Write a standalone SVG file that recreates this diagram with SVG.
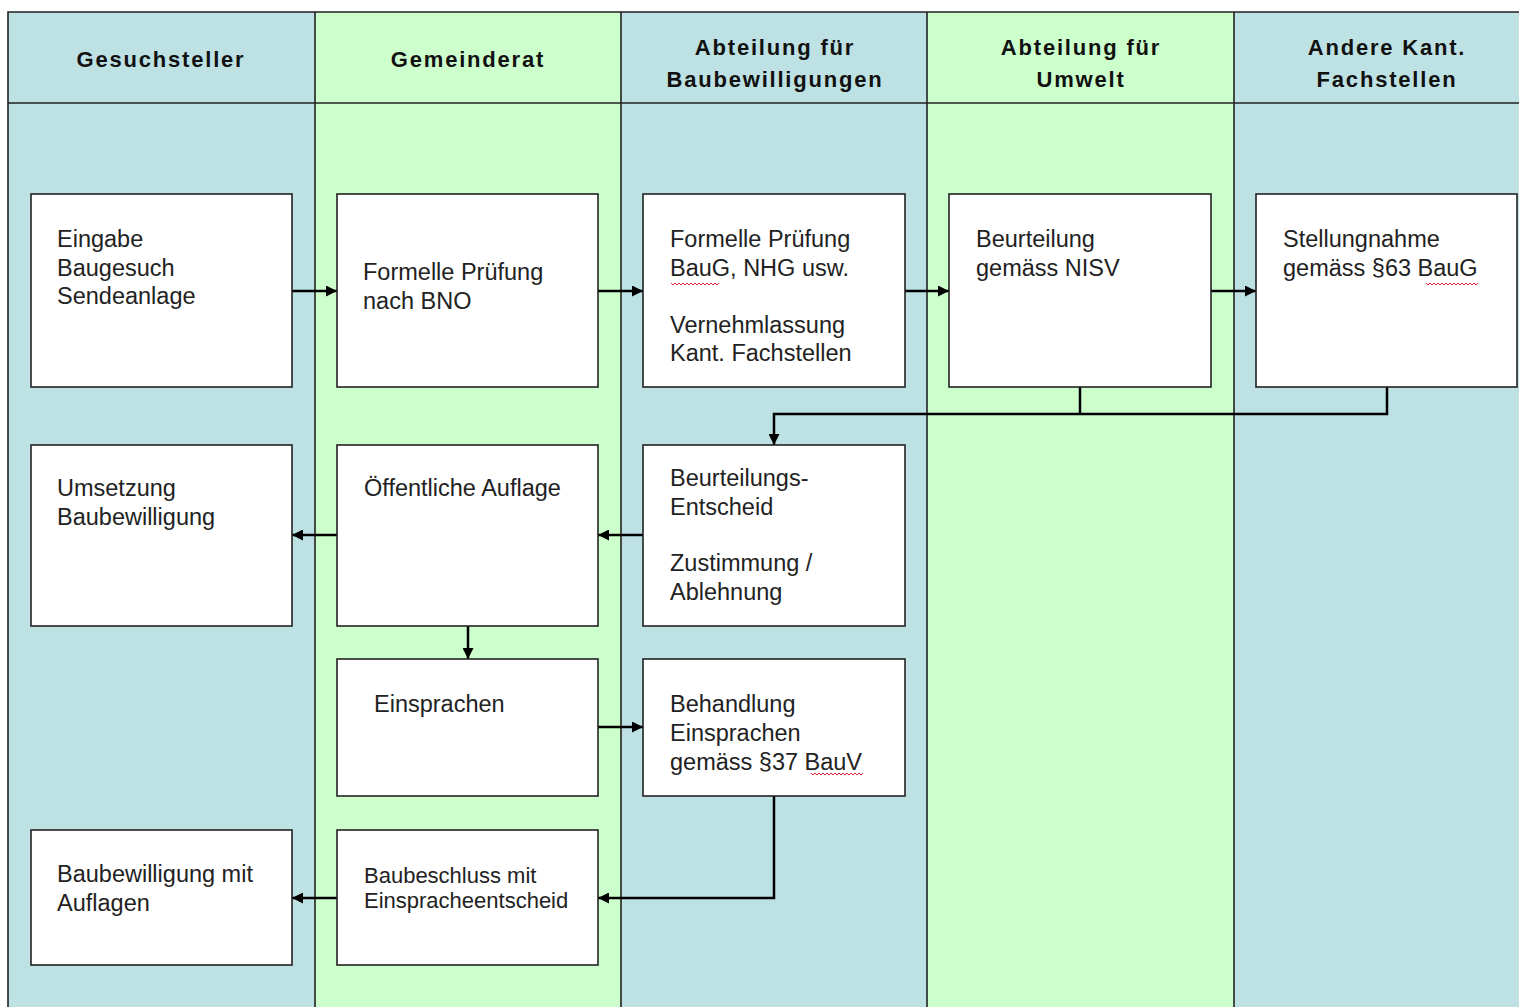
<svg xmlns="http://www.w3.org/2000/svg" width="1519" height="1007" viewBox="0 0 1519 1007">
<defs>
<marker id="ah" viewBox="0 0 10 10" refX="10" refY="5" markerWidth="11" markerHeight="11" markerUnits="userSpaceOnUse" orient="auto">
<path d="M0,0 L10,5 L0,10 z" fill="#000"/>
</marker>
<style>
.bl{fill:#BEE1E4}
.gr{fill:#CCFFCC}
.ln{stroke:#222;stroke-width:1.6;fill:none}
.hd{font-family:"Liberation Sans",Arial,sans-serif;font-weight:bold;font-size:22px;letter-spacing:1.8px;fill:#111;text-anchor:middle}
.box{fill:#fff;stroke:#222;stroke-width:1.6}
.t{font-family:"Liberation Sans",Arial,sans-serif;font-size:23.5px;fill:#222}
.ts{font-family:"Liberation Sans",Arial,sans-serif;font-size:22px;fill:#222}
.c{stroke:#000;stroke-width:2.5;fill:none}
.sp{stroke:#d23;stroke-width:1;fill:none}
</style>
</defs>
<rect width="1519" height="1007" fill="#fff"/>
<g id="lanes">
<rect class="bl" x="8" y="12" width="307" height="1000"/>
<rect class="gr" x="315" y="12" width="306" height="1000"/>
<rect class="bl" x="621" y="12" width="306" height="1000"/>
<rect class="gr" x="927" y="12" width="307" height="1000"/>
<rect class="bl" x="1234" y="12" width="300" height="1000"/>
<path class="ln" d="M8,1010 V12 H1530 M8,103 H1530 M315,12 V1010 M621,12 V1010 M927,12 V1010 M1234,12 V1010"/>
<text class="hd" x="161" y="67">Gesuchsteller</text>
<text class="hd" x="468" y="67">Gemeinderat</text>
<text class="hd" x="775" y="55">Abteilung für</text>
<text class="hd" x="775" y="87">Baubewilligungen</text>
<text class="hd" x="1081" y="55">Abteilung für</text>
<text class="hd" x="1081" y="87">Umwelt</text>
<text class="hd" x="1387" y="55">Andere Kant.</text>
<text class="hd" x="1387" y="87">Fachstellen</text>
</g>
<g id="connectors">
<path class="c" d="M292,291 H337" marker-end="url(#ah)"/>
<path class="c" d="M598,291 H643" marker-end="url(#ah)"/>
<path class="c" d="M905,291 H949" marker-end="url(#ah)"/>
<path class="c" d="M1211,291 H1256" marker-end="url(#ah)"/>
<path class="c" d="M1080,387 V414"/>
<path class="c" d="M1387,387 V414 H774 V445" marker-end="url(#ah)"/>
<path class="c" d="M643,535 H598" marker-end="url(#ah)"/>
<path class="c" d="M337,535 H292" marker-end="url(#ah)"/>
<path class="c" d="M468,626 V659" marker-end="url(#ah)"/>
<path class="c" d="M598,727 H643" marker-end="url(#ah)"/>
<path class="c" d="M774,796 V898 H598" marker-end="url(#ah)"/>
<path class="c" d="M337,898 H292" marker-end="url(#ah)"/>
</g>
<g id="n-eingabe">
<rect class="box" x="31" y="194" width="261" height="193"/>
<text class="t" x="57" y="247">Eingabe</text>
<text class="t" x="57" y="276">Baugesuch</text>
<text class="t" x="57" y="304">Sendeanlage</text>
</g>
<g id="n-formell-bno">
<rect class="box" x="337" y="194" width="261" height="193"/>
<text class="t" x="363" y="280">Formelle Prüfung</text>
<text class="t" x="363" y="309">nach BNO</text>
</g>
<g id="n-formell-baug">
<rect class="box" x="643" y="194" width="262" height="193"/>
<text class="t" x="670" y="247">Formelle Prüfung</text>
<text class="t" x="670" y="276">BauG, NHG usw.</text>
<path class="sp" d="M671,283 l2,2 l2,-2 l2,2 l2,-2 l2,2 l2,-2 l2,2 l2,-2 l2,2 l2,-2 l2,2 l2,-2 l2,2 l2,-2 l2,2 l2,-2 l2,2 l2,-2 l2,2 l2,-2 l2,2 l2,-2 l2,2 l2,-2"/>
<text class="t" x="670" y="333">Vernehmlassung</text>
<text class="t" x="670" y="361">Kant. Fachstellen</text>
</g>
<g id="n-beurteilung-nisv">
<rect class="box" x="949" y="194" width="262" height="193"/>
<text class="t" x="976" y="247">Beurteilung</text>
<text class="t" x="976" y="276">gemäss NISV</text>
</g>
<g id="n-stellungnahme">
<rect class="box" x="1256" y="194" width="261" height="193"/>
<text class="t" x="1283" y="247">Stellungnahme</text>
<text class="t" x="1283" y="276">gemäss §63 BauG</text>
<path class="sp" d="M1426,283 l2,2 l2,-2 l2,2 l2,-2 l2,2 l2,-2 l2,2 l2,-2 l2,2 l2,-2 l2,2 l2,-2 l2,2 l2,-2 l2,2 l2,-2 l2,2 l2,-2 l2,2 l2,-2 l2,2 l2,-2 l2,2 l2,-2 l2,2 l2,-2"/>
</g>
<g id="n-umsetzung">
<rect class="box" x="31" y="445" width="261" height="181"/>
<text class="t" x="57" y="496">Umsetzung</text>
<text class="t" x="57" y="525">Baubewilligung</text>
</g>
<g id="n-auflage">
<rect class="box" x="337" y="445" width="261" height="181"/>
<text class="t" x="364" y="496">Öffentliche Auflage</text>
</g>
<g id="n-entscheid">
<rect class="box" x="643" y="445" width="262" height="181"/>
<text class="t" x="670" y="486">Beurteilungs-</text>
<text class="t" x="670" y="515">Entscheid</text>
<text class="t" x="670" y="571">Zustimmung /</text>
<text class="t" x="670" y="600">Ablehnung</text>
</g>
<g id="n-einsprachen">
<rect class="box" x="337" y="659" width="261" height="137"/>
<text class="t" x="374" y="712">Einsprachen</text>
</g>
<g id="n-behandlung">
<rect class="box" x="643" y="659" width="262" height="137"/>
<text class="t" x="670" y="712">Behandlung</text>
<text class="t" x="670" y="741">Einsprachen</text>
<text class="t" x="670" y="770">gemäss §37 BauV</text>
<path class="sp" d="M811,773 l2,2 l2,-2 l2,2 l2,-2 l2,2 l2,-2 l2,2 l2,-2 l2,2 l2,-2 l2,2 l2,-2 l2,2 l2,-2 l2,2 l2,-2 l2,2 l2,-2 l2,2 l2,-2 l2,2 l2,-2 l2,2 l2,-2 l2,2 l2,-2"/>
</g>
<g id="n-baubewilligung">
<rect class="box" x="31" y="830" width="261" height="135"/>
<text class="t" x="57" y="882">Baubewilligung mit</text>
<text class="t" x="57" y="911">Auflagen</text>
</g>
<g id="n-baubeschluss">
<rect class="box" x="337" y="830" width="261" height="135"/>
<text class="ts" x="364" y="883">Baubeschluss mit</text>
<text class="ts" x="364" y="908">Einspracheentscheid</text>
</g>
</svg>
